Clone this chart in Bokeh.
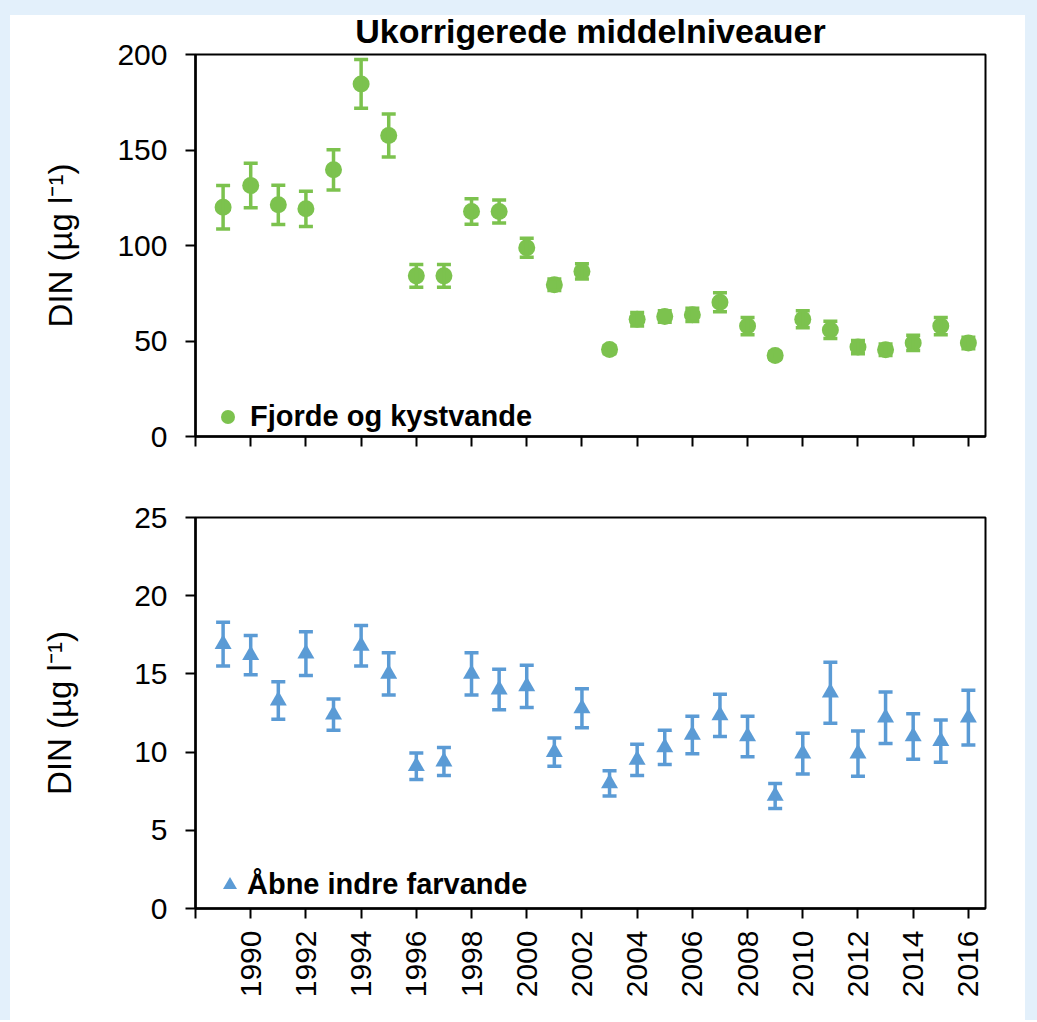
import math
from bokeh.plotting import figure
from bokeh.models import (ColumnDataSource, Whisker, TeeHead, FixedTicker, Range1d,
                          Legend, LegendItem)
from bokeh.layouts import column
from bokeh.embed import file_html
from bokeh.resources import INLINE

# ---------------- data ----------------
years = list(range(1989, 2017))

fjord_mean = [120.0, 131.4, 121.3, 119.2, 139.6, 184.6, 157.6, 84.1, 84.1, 117.8,
              117.8, 98.8, 79.4, 86.4, 45.5, 61.4, 62.8, 63.7, 70.3, 57.8,
              42.4, 61.4, 55.8, 46.8, 45.4, 49.0, 57.8, 48.9]
fjord_err = [11.4, 11.6, 10.3, 9.2, 10.5, 12.8, 11.2, 6.0, 6.0, 6.7,
             6.0, 5.0, 3.0, 4.0, 2.0, 3.5, 3.0, 3.5, 5.0, 4.5,
             2.0, 4.5, 4.5, 3.5, 3.0, 4.0, 4.5, 3.0]

open_mean = [16.9, 16.2, 13.3, 16.3, 12.4, 16.8, 15.0, 9.1, 9.4, 15.0,
             14.0, 14.2, 10.0, 12.8, 8.0, 9.5, 10.3, 11.1, 12.35, 11.0,
             7.2, 9.9, 13.8, 9.9, 12.2, 11.0, 10.7, 12.2]
open_err = [1.4, 1.25, 1.2, 1.4, 1.0, 1.3, 1.35, 0.85, 0.9, 1.35,
            1.3, 1.35, 0.9, 1.25, 0.8, 1.0, 1.1, 1.2, 1.35, 1.3,
            0.8, 1.3, 1.95, 1.45, 1.65, 1.45, 1.35, 1.75]

x_ticks = list(range(1988, 2017, 2))
top_y_ticks = [0, 50, 100, 150, 200]
bottom_y_ticks = [0, 5, 10, 15, 20, 25]

title_text = "Ukorrigerede middelniveauer"
y_label = "DIN (µg l\u207b\u00b9)"
fjord_label = "Fjorde og kystvande"
open_label = "Åbne indre farvande"

X_START, X_END = 1988, 2016.62
GREEN = "#7cc24e"
BLUE = "#5b9bd5"
PAGE_BLUE = "#e3f0fb"
FONT = "Liberation Sans"

SIDE_BG = (f"linear-gradient(to right, {PAGE_BLUE} 0px, {PAGE_BLUE} 10px, #ffffff 10px, "
           f"#ffffff 1025px, {PAGE_BLUE} 1025px)")
TOP_BG = (f"linear-gradient({PAGE_BLUE}, {PAGE_BLUE}) top left / 100% 15px no-repeat, "
          + SIDE_BG)


def style_panel(p, y_ticks, axis_label_standoff, show_x_labels):
    p.xgrid.visible = False
    p.ygrid.visible = False
    p.outline_line_color = "black"
    p.outline_line_width = 2
    p.background_fill_color = "white"
    p.border_fill_color = None
    for ax in (p.xaxis[0], p.yaxis[0]):
        ax.axis_line_color = "black"
        ax.axis_line_width = 2.5
        ax.major_tick_line_color = "black"
        ax.major_tick_line_width = 2
        ax.major_tick_out = 10
        ax.major_tick_in = 0
        ax.minor_tick_line_color = "black"
        ax.minor_tick_line_width = 2
        ax.minor_tick_out = 10
        ax.minor_tick_in = 0
        ax.major_label_text_font = FONT
        ax.major_label_text_color = "black"
        ax.major_label_text_font_size = "30px"
    if show_x_labels:
        p.xaxis.ticker = FixedTicker(ticks=x_ticks[1:], minor_ticks=x_ticks[:1])
        p.xaxis.major_label_orientation = math.pi / 2
        p.xaxis.major_label_standoff = 12
    else:
        p.xaxis.ticker = FixedTicker(ticks=[], minor_ticks=x_ticks)
    p.yaxis.ticker = FixedTicker(ticks=y_ticks, minor_ticks=[])
    p.yaxis.major_label_standoff = 18
    p.yaxis.axis_label = y_label
    p.yaxis.axis_label_text_font = FONT
    p.yaxis.axis_label_text_font_style = "normal"
    p.yaxis.axis_label_text_font_size = "33px"
    p.yaxis.axis_label_text_color = "black"
    p.yaxis.axis_label_standoff = axis_label_standoff


def add_series(p, mean, err, color, marker, label, legend_loc, standoff):
    src = ColumnDataSource(dict(
        x=years, y=mean,
        upper=[m + e for m, e in zip(mean, err)],
        lower=[m - e for m, e in zip(mean, err)],
    ))
    w = Whisker(source=src, base="x", upper="upper", lower="lower",
                line_color=color, line_width=3.5, level="glyph",
                upper_head=TeeHead(size=14, line_color=color, line_width=3.5),
                lower_head=TeeHead(size=14, line_color=color, line_width=3.5))
    p.add_layout(w)
    r = p.scatter("x", "y", source=src, marker=marker, size=17,
                  fill_color=color, line_color=color, line_width=0)
    leg = Legend(items=[LegendItem(label=label, renderers=[r])],
                 location=legend_loc, padding=0, margin=0, spacing=0,
                 glyph_width=35, glyph_height=35, label_height=35,
                 label_standoff=standoff,
                 label_text_font=FONT, label_text_font_style="bold",
                 label_text_font_size="29px", label_text_color="black",
                 background_fill_alpha=0, border_line_alpha=0)
    p.add_layout(leg)


# ---------------- top panel ----------------
top = figure(frame_width=790, frame_height=382,
             min_border_left=195, min_border_right=52,
             min_border_top=54, min_border_bottom=34,
             x_range=Range1d(X_START, X_END), y_range=Range1d(0, 200),
             title=title_text,
             output_backend="svg", toolbar_location=None,
             styles={"background": TOP_BG})
top.title.align = "center"
top.title.offset = -6
top.title.text_font = FONT
top.title.text_font_style = "bold"
top.title.text_font_size = "34px"
top.title.text_color = "black"
top.title.standoff = 9
style_panel(top, top_y_ticks, 35, False)
add_series(top, fjord_mean, fjord_err, GREEN, "circle", fjord_label, (15, 2), 5)

# ---------------- bottom panel ----------------
bottom = figure(frame_width=790, frame_height=391,
                min_border_left=194, min_border_right=53,
                min_border_top=47, min_border_bottom=112,
                x_range=Range1d(X_START, X_END), y_range=Range1d(0, 25),
                output_backend="svg", toolbar_location=None,
                styles={"background": SIDE_BG})
style_panel(bottom, bottom_y_ticks, 53, True)
add_series(bottom, open_mean, open_err, BLUE, "triangle", open_label, (17, 6), 0)

layout = column(top, bottom, spacing=0)

open("out.html", "w").write(file_html(layout, INLINE))
